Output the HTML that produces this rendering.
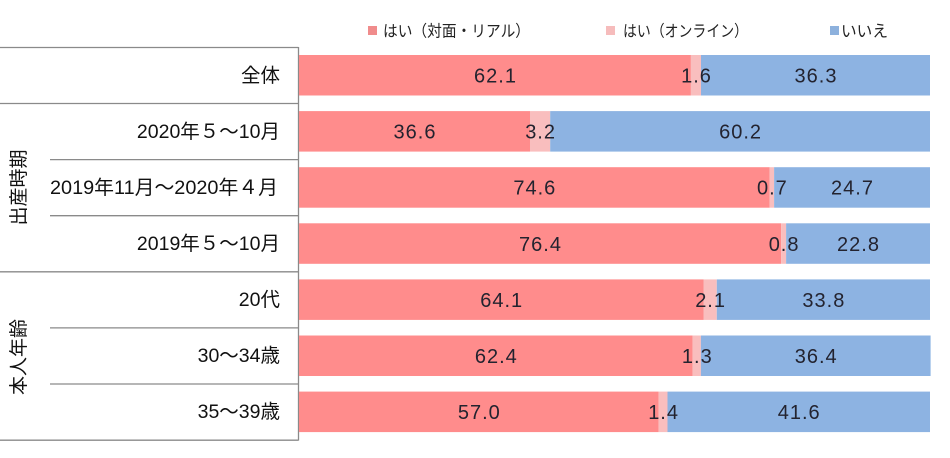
<!DOCTYPE html>
<html><head><meta charset="utf-8"><style>
html,body{margin:0;padding:0;background:#fff;}
svg{display:block;}
text{font-family:"Liberation Sans","Noto Sans CJK JP",sans-serif;}
</style></head><body>
<svg width="950" height="458" viewBox="0 0 950 458" xmlns="http://www.w3.org/2000/svg">
<rect width="950" height="458" fill="#fff"/>
<!-- legend -->
<rect x="368" y="26" width="9" height="9" fill="#F08C8C"/>
<text x="383" y="36.5" font-size="16" fill="#222" textLength="147" lengthAdjust="spacingAndGlyphs">はい（対面・リアル）</text>
<rect x="606" y="26" width="9" height="9" fill="#F6BCBC"/>
<text x="623" y="36.5" font-size="16" fill="#222" textLength="125" lengthAdjust="spacingAndGlyphs">はい（オンライン）</text>
<rect x="830" y="26" width="9" height="9" fill="#8DB1DD"/>
<text x="841" y="36.5" font-size="16" fill="#222" textLength="47" lengthAdjust="spacingAndGlyphs">いいえ</text>

<!-- table lines -->
<g stroke="#8a8a8a" stroke-width="1.3" fill="none">
<line x1="0" y1="47.5" x2="298.5" y2="47.5"/>
<line x1="0" y1="103.5" x2="298.5" y2="103.5"/>
<line x1="50" y1="159.6" x2="298.5" y2="159.6"/>
<line x1="50" y1="215.7" x2="298.5" y2="215.7"/>
<line x1="0" y1="271.8" x2="298.5" y2="271.8"/>
<line x1="50" y1="327.9" x2="298.5" y2="327.9"/>
<line x1="50" y1="384" x2="298.5" y2="384"/>
<line x1="0" y1="440.2" x2="298.5" y2="440.2"/>
<line x1="298.5" y1="47" x2="298.5" y2="440.5"/>
</g>

<!-- row labels -->
<g font-size="19.5" fill="#111" text-anchor="end">
<text x="280" y="82">全体</text>
<text x="280" y="138">2020年５～10月</text>
<text x="278" y="194" textLength="228" lengthAdjust="spacingAndGlyphs">2019年11月～2020年４月</text>
<text x="280" y="250">2019年５～10月</text>
<text x="280" y="306">20代</text>
<text x="280" y="362">30～34歳</text>
<text x="280" y="418">35～39歳</text>
</g>

<!-- group labels -->
<g font-size="19" fill="#111" text-anchor="middle">
<text transform="translate(25,187.5) rotate(-90)">出産時期</text>
<text transform="translate(25,357) rotate(-90)">本人年齢</text>
</g>

<!-- bars -->
<g id="bars">
<rect x="299" y="55" width="391.9" height="40.5" fill="#FF8C8C"/>
<rect x="690.9" y="55" width="10.1" height="40.5" fill="#F9BEBE"/>
<rect x="701" y="55" width="229" height="40.5" fill="#8DB3E2"/>

<rect x="299" y="111.1" width="231" height="40.5" fill="#FF8C8C"/>
<rect x="530" y="111.1" width="20.2" height="40.5" fill="#F9BEBE"/>
<rect x="550.2" y="111.1" width="379.8" height="40.5" fill="#8DB3E2"/>

<rect x="299" y="167.2" width="470.7" height="40.5" fill="#FF8C8C"/>
<rect x="769.7" y="167.2" width="4.4" height="40.5" fill="#F9BEBE"/>
<rect x="774.1" y="167.2" width="155.9" height="40.5" fill="#8DB3E2"/>

<rect x="299" y="223.3" width="482.1" height="40.5" fill="#FF8C8C"/>
<rect x="781.1" y="223.3" width="5" height="40.5" fill="#F9BEBE"/>
<rect x="786.1" y="223.3" width="143.9" height="40.5" fill="#8DB3E2"/>

<rect x="299" y="279.4" width="404.5" height="40.5" fill="#FF8C8C"/>
<rect x="703.5" y="279.4" width="13.3" height="40.5" fill="#F9BEBE"/>
<rect x="716.8" y="279.4" width="213.2" height="40.5" fill="#8DB3E2"/>

<rect x="299" y="335.5" width="393.7" height="40.5" fill="#FF8C8C"/>
<rect x="692.7" y="335.5" width="8.2" height="40.5" fill="#F9BEBE"/>
<rect x="700.9" y="335.5" width="229.7" height="40.5" fill="#8DB3E2"/>

<rect x="299" y="391.6" width="359.7" height="40.5" fill="#FF8C8C"/>
<rect x="658.7" y="391.6" width="8.8" height="40.5" fill="#F9BEBE"/>
<rect x="667.5" y="391.6" width="262.5" height="40.5" fill="#8DB3E2"/>
</g>

<!-- data labels -->
<g font-size="20" fill="#23232f" text-anchor="middle" letter-spacing="1">
<text x="495.5" y="82.5">62.1</text>
<text x="696.5" y="82.5">1.6</text>
<text x="816" y="82.5">36.3</text>

<text x="415" y="138.6">36.6</text>
<text x="540.6" y="138.6">3.2</text>
<text x="740.6" y="138.6">60.2</text>

<text x="534.8" y="194.7">74.6</text>
<text x="772.4" y="194.7">0.7</text>
<text x="852.5" y="194.7">24.7</text>

<text x="540.5" y="250.8">76.4</text>
<text x="784.1" y="250.8">0.8</text>
<text x="858.5" y="250.8">22.8</text>

<text x="501.7" y="306.9">64.1</text>
<text x="710.6" y="306.9">2.1</text>
<text x="823.9" y="306.9">33.8</text>

<text x="496.3" y="363">62.4</text>
<text x="697.3" y="363">1.3</text>
<text x="816.2" y="363">36.4</text>

<text x="479.3" y="419.1">57.0</text>
<text x="663.6" y="419.1">1.4</text>
<text x="799.2" y="419.1">41.6</text>
</g>
</svg>
</body></html>
